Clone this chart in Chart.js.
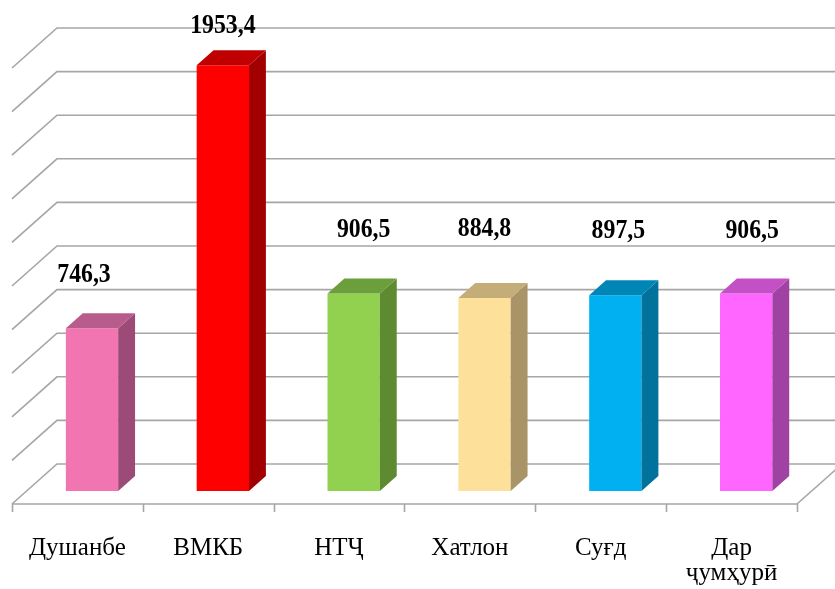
<!DOCTYPE html>
<html>
<head>
<meta charset="utf-8">
<script src="https://cdn.jsdelivr.net/npm/chart.js@4/dist/chart.umd.min.js"></script>
<style>
  html, body { margin: 0; padding: 0; background: #ffffff; }
  #wrap { width: 835px; height: 589px; }
</style>
</head>
<body>
<div id="wrap"><canvas id="c" width="835" height="589"></canvas></div>
<script>
// Regions and their values
const categories = ['Душанбе', 'ВМКБ', 'НТҶ', 'Хатлон', 'Суғд', ['Дар', 'ҷумҳурӣ']];
const values = [746.3, 1953.4, 906.5, 884.8, 897.5, 906.5];

// Value axis (hidden, drives the wall gridlines)
const axisMin = 0;
const axisMax = 2000;
const axisStep = 200;

// Face colours of each prism: front, right side, top
const frontColors = ['#f175b0', '#ff0000', '#92d050', '#fde19b', '#00b0f0', '#ff66ff'];
const sideColors  = ['#9c4a76', '#a20000', '#5e8a32', '#a89466', '#00729b', '#a042a4'];
const topColors   = ['#b85c8c', '#c00000', '#6c9e3c', '#c4ad78', '#0086b6', '#c450c6'];

const SERIF = '"Liberation Serif", "Times New Roman", serif';

const fmt = v => v.toFixed(1).replace('.', ',');

// Oblique 3D look: floor depth vector, bar placement within the depth
const floorDX = 45, floorDY = -40;
const barFrontDepth = 0.325;   // fraction of floor depth in front of the bars
const barDepth = 0.375;        // bar thickness as fraction of floor depth

const box3d = {
  id: 'box3d',
  beforeDatasetsDraw(chart) {
    const { ctx, chartArea: a, scales: { x, y } } = chart;
    const fx = floorDX * barFrontDepth, fy = floorDY * barFrontDepth;     // front plane offset
    const left = a.left - fx, right = a.right - fx;
    ctx.save();
    ctx.strokeStyle = '#a6a6a6';
    ctx.lineWidth = 1.6;
    ctx.lineCap = 'butt';
    y.ticks.forEach(t => {
      const py = y.getPixelForValue(t.value);
      ctx.beginPath();
      // left wall diagonal
      ctx.moveTo(left, py - fy);
      ctx.lineTo(left + floorDX, py - fy + floorDY);
      // back wall horizontal
      ctx.lineTo(right + floorDX + 20, py - fy + floorDY);
      ctx.stroke();
    });
    // floor front edge and right edge
    const y0 = y.getPixelForValue(0) - fy;
    ctx.beginPath();
    ctx.moveTo(left, y0);
    ctx.lineTo(right, y0);
    ctx.lineTo(right + floorDX, y0 + floorDY);
    ctx.stroke();
    // category tick marks along the floor edge
    const n = chart.data.labels.length;
    const slot = (right - left) / n;
    ctx.beginPath();
    for (let i = 0; i <= n; i++) {
      const px = Math.round(left + i * slot) + 0.5;
      ctx.moveTo(px, y0);
      ctx.lineTo(px, y0 + 8);
    }
    ctx.stroke();
    ctx.restore();
  },
  afterDatasetsDraw(chart, args, opts) {
    const { ctx } = chart;
    const meta = chart.getDatasetMeta(0);
    const dx = floorDX * barDepth, dy = floorDY * barDepth;
    ctx.save();
    meta.data.forEach((bar, i) => {
      const { x: cx, y: top, base, width } = bar.getProps(['x', 'y', 'base', 'width'], true);
      const l = cx - width / 2, r = cx + width / 2;
      // right side face
      ctx.fillStyle = sideColors[i];
      ctx.beginPath();
      ctx.moveTo(r, base);
      ctx.lineTo(r + dx, base + dy);
      ctx.lineTo(r + dx, top + dy);
      ctx.lineTo(r, top);
      ctx.closePath();
      ctx.fill();
      // top face
      ctx.fillStyle = topColors[i];
      ctx.beginPath();
      ctx.moveTo(l, top);
      ctx.lineTo(r, top);
      ctx.lineTo(r + dx, top + dy);
      ctx.lineTo(l + dx, top + dy);
      ctx.closePath();
      ctx.fill();
      // value label, slightly condensed bold serif
      const [ox, lift] = opts.labelPlacement[i];
      ctx.save();
      ctx.translate(cx + ox, top - lift);
      ctx.scale(0.88, 1);
      ctx.fillStyle = '#000000';
      ctx.font = 'bold 27px ' + SERIF;
      ctx.textAlign = 'center';
      ctx.textBaseline = 'alphabetic';
      ctx.fillText(fmt(values[i]), 0, 0);
      ctx.restore();
    });
    ctx.restore();
  }
};

new Chart(document.getElementById('c'), {
  type: 'bar',
  data: {
    labels: categories,
    datasets: [{
      data: values,
      backgroundColor: frontColors,
      borderWidth: 0,
      barPercentage: 0.4,
      categoryPercentage: 1.0
    }]
  },
  plugins: [box3d],
  options: {
    responsive: false,
    animation: false,
    events: [],
    layout: { padding: { left: 26.6, right: 23.4, top: 55, bottom: 0 } },
    plugins: {
      legend: { display: false },
      title: { display: false },
      tooltip: { enabled: false },
      box3d: {
        // [horizontal shift, lift above bar top] for each value label
        labelPlacement: [[-8, 46], [0, 32], [10, 56], [0, 62], [3, 57], [6, 55]]
      }
    },
    scales: {
      x: {
        offset: true,
        grid: { display: false },
        border: { display: false },
        ticks: {
          color: '#000000',
          font: { family: SERIF, size: 25, lineHeight: 1.0 },
          padding: 37,
          labelOffset: -14.6,
          maxRotation: 0,
          autoSkip: false
        },
        afterFit(scale) { scale.height = 98; }
      },
      y: {
        display: false,
        min: axisMin,
        max: axisMax,
        ticks: { stepSize: axisStep }
      }
    }
  }
});
</script>
</body>
</html>
